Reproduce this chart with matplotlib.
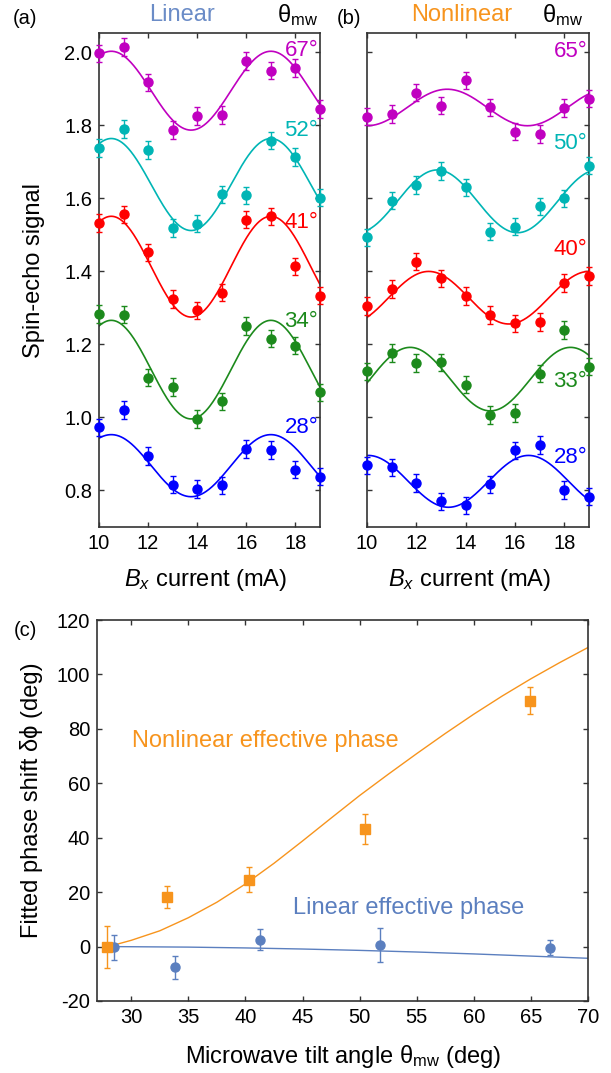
import numpy as np
import matplotlib
matplotlib.use('Agg')
import matplotlib.pyplot as plt

plt.rcParams['font.family'] = ['Liberation Sans', 'DejaVu Sans']
plt.rcParams['mathtext.fontset'] = 'custom'
plt.rcParams['mathtext.rm'] = 'Liberation Sans'
plt.rcParams['mathtext.it'] = 'Liberation Sans:italic'
plt.rcParams['axes.unicode_minus'] = False

# ---- data -------------------------------------------------------------
current = [10, 11, 12, 13, 14, 15, 16, 17, 18, 19]
colors = ['#0000ff', '#1c8a1c', '#ff0000', '#00b5b5', '#c000c0']
period = 6.5

# (a) linear, theta = 28, 34, 41, 52, 67
lin_labels = ['28°', '34°', '41°', '52°', '67°']
lin_28 = [0.973, 1.021, 0.895, 0.816, 0.804, 0.814, 0.913, 0.911, 0.857, 0.838]
lin_34 = [1.284, 1.282, 1.109, 1.083, 0.996, 1.044, 1.250, 1.216, 1.197, 1.069]
lin_41 = [1.533, 1.556, 1.452, 1.324, 1.293, 1.342, 1.542, 1.551, 1.414, 1.334]
lin_52 = [1.738, 1.790, 1.732, 1.519, 1.531, 1.611, 1.608, 1.758, 1.714, 1.602]
lin_67 = [1.997, 2.015, 1.918, 1.787, 1.825, 1.828, 1.977, 1.950, 1.957, 1.845]
lin_offset = [0.868, 1.131, 1.413, 1.638, 1.895]
lin_amp = [0.085, 0.135, 0.138, 0.126, 0.108]
lin_peak = [17.0, 17.0, 17.0, 17.0, 17.0]
lin_label_y = [0.972, 1.262, 1.533, 1.787, 2.006]

# (b) nonlinear, theta = 28, 33, 40, 50, 65
nl_labels = ['28°', '33°', '40°', '50°', '65°']
nl_28 = [0.869, 0.863, 0.820, 0.770, 0.759, 0.817, 0.910, 0.925, 0.801, 0.783]
nl_33 = [1.126, 1.176, 1.149, 1.151, 1.090, 1.007, 1.012, 1.120, 1.240, 1.139]
nl_40 = [1.306, 1.352, 1.427, 1.381, 1.333, 1.281, 1.258, 1.261, 1.368, 1.388]
nl_50 = [1.493, 1.594, 1.637, 1.675, 1.630, 1.509, 1.523, 1.578, 1.600, 1.690]
nl_65 = [1.824, 1.831, 1.890, 1.854, 1.923, 1.849, 1.783, 1.777, 1.847, 1.873]
nl_offset = [0.825, 1.105, 1.328, 1.592, 1.849]
nl_amp = [0.071, 0.087, 0.072, 0.086, 0.050]
nl_peak = [16.55, 11.75, 12.5, 12.85, 13.25]
nl_label_y = [0.891, 1.098, 1.459, 1.750, 2.002]

sig_err = 0.024

# (c) fitted phase shifts
nl_theta = [27.9, 33.1, 40.3, 50.5, 64.9]
nl_phase = [0.0, 18.2, 24.6, 43.2, 90.3]
nl_phase_err = [7.7, 4.0, 4.7, 5.5, 4.9]
lin_theta = [28.5, 33.8, 41.3, 51.8, 66.7]
lin_phase = [-0.2, -7.6, 2.5, 0.6, -0.4]
lin_phase_err = [4.6, 4.2, 3.9, 6.3, 2.7]

# theory curves
nl_curve_x = [28, 30, 32.5, 35, 37.5, 40, 42.5, 45, 47.5, 50, 52.5, 55,
              57.5, 60, 62.5, 65, 67.5, 70]
nl_curve_y = [0, 2.3, 5.8, 10.6, 16.3, 23.0, 30.6, 38.8, 47.2, 55.5, 63.3,
              70.9, 78.3, 85.4, 92.1, 98.4, 104.3, 109.9]
lin_curve_x = [28, 35, 40, 45, 50, 55, 60, 65, 70]
lin_curve_y = [0, -0.2, -0.5, -0.9, -1.4, -2.0, -2.7, -3.5, -4.3]

orange = '#f7941d'
steel = '#5b7fbf'
W, H = 611, 1073
tick_fs = 14.5
label_fs = 17

fig = plt.figure(figsize=(W / 100, H / 100), dpi=100)


def box(x0, y0, x1, y1):
    return [x0 / W, 1 - y1 / H, (x1 - x0) / W, (y1 - y0) / H]


def ftext(x, y, s, **kw):
    return fig.text(x / W, 1 - y / H, s, **kw)


def style(ax):
    for s in ax.spines.values():
        s.set_linewidth(1.2)
        s.set_color('#333333')
    ax.tick_params(direction='in', top=True, right=True, length=3.5,
                   width=1, labelsize=tick_fs, color='#333333', pad=5)


def panel(ax, series, offs, amps, peaks, labels, label_y):
    xs = np.linspace(10, 19, 300)
    for i, ys in enumerate(series):
        c = colors[i]
        fit = offs[i] + amps[i] * np.cos(2 * np.pi * (xs - peaks[i]) / period)
        ax.plot(xs, fit, color=c, lw=1.2)
        ax.errorbar(current, ys, yerr=sig_err, fmt='o', color=c, ms=6.5,
                    ecolor=c, elinewidth=1, capsize=2.5, capthick=1,
                    clip_on=False, zorder=3)
        ax.text(18.93, label_y[i], labels[i], color=c, fontsize=16,
                ha='right', va='center')
    ax.set_xlim(10, 19)
    ax.set_ylim(0.7, 2.053)
    ax.set_xticks([10, 12, 14, 16, 18])
    ax.set_yticks([0.8, 1.0, 1.2, 1.4, 1.6, 1.8, 2.0])
    style(ax)


series_a = [lin_28, lin_34, lin_41, lin_52, lin_67]
series_b = [nl_28, nl_33, nl_40, nl_50, nl_65]

ax1 = fig.add_axes(box(99, 33, 320, 527))
panel(ax1, series_a, lin_offset, lin_amp, lin_peak, lin_labels, lin_label_y)
ax1.yaxis.set_major_formatter(plt.FormatStrFormatter('%.1f'))

ax2 = fig.add_axes(box(367, 33, 589, 527))
panel(ax2, series_b, nl_offset, nl_amp, nl_peak, nl_labels, nl_label_y)
ax2.set_yticklabels([])

ftext(34, 271, 'Spin-echo signal', fontsize=label_fs, rotation=90,
      ha='center', va='center')
ftext(206, 580, r'$B_x$ current (mA)', fontsize=label_fs,
      ha='center', va='center')
ftext(470, 580, r'$B_x$ current (mA)', fontsize=label_fs,
      ha='center', va='center')

ftext(25, 19, '(a)', fontsize=14.5, ha='center', va='center')
ftext(182, 15, 'Linear', fontsize=17, color='#6b8cc7',
      ha='center', va='center')
ftext(318, 15, r'$\mathrm{θ}_{\mathrm{mw}}$', fontsize=17,
      ha='right', va='center')
ftext(349, 19, '(b)', fontsize=14.5, ha='center', va='center')
ftext(462, 15, 'Nonlinear', fontsize=17, color=orange,
      ha='center', va='center')
ftext(583, 15, r'$\mathrm{θ}_{\mathrm{mw}}$', fontsize=17,
      ha='right', va='center')

# (c)
ax3 = fig.add_axes(box(97, 620, 588, 1001))
ax3.plot(nl_curve_x, nl_curve_y, color=orange, lw=1)
ax3.plot(lin_curve_x, lin_curve_y, color=steel, lw=1)
ax3.errorbar(lin_theta, lin_phase, yerr=lin_phase_err, fmt='o', color=steel,
             ms=6.5, elinewidth=1, capsize=2.5, capthick=1, zorder=3)
ax3.errorbar(nl_theta, nl_phase, yerr=nl_phase_err, fmt='s', color=orange,
             ms=7, elinewidth=1, capsize=2.5, capthick=1, zorder=4,
             clip_on=False)
ax3.set_xlim(27, 70)
ax3.set_ylim(-20, 120)
ax3.set_xticks(range(30, 71, 5))
ax3.set_yticks(range(-20, 121, 20))
style(ax3)
ax3.text(30.1, 75.5, 'Nonlinear effective phase', color=orange,
         fontsize=label_fs, va='center')
ax3.text(44.2, 14, 'Linear effective phase', color=steel,
         fontsize=label_fs, va='center')

ftext(343, 1056, r'Microwave tilt angle $\mathrm{θ}_{\mathrm{mw}}$ (deg)',
      fontsize=label_fs, ha='center', va='center')
ftext(32, 800, 'Fitted phase shift δϕ (deg)', fontsize=label_fs,
      rotation=90, ha='center', va='center')
ftext(25, 630, '(c)', fontsize=14.5, ha='center', va='center')

fig.savefig('out.png', dpi=100)
